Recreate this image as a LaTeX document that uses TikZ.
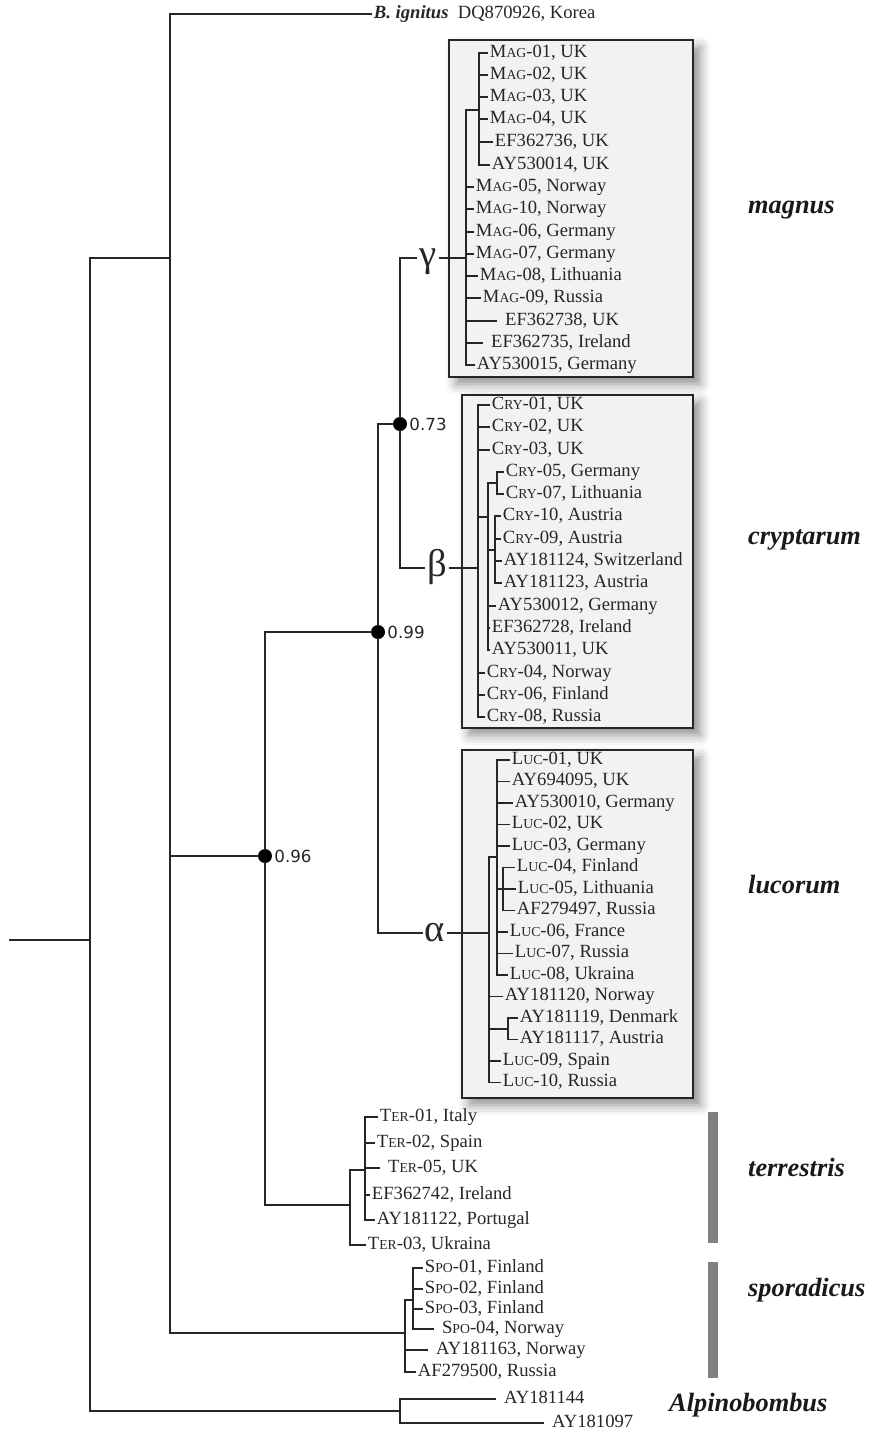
\documentclass[tikz,border=0pt]{standalone}
\usepackage{fontspec}
\setmainfont{Liberation Serif}
\newfontfamily\valfont{DejaVu Sans}
\usetikzlibrary{shadows.blur}
% small caps for the sample codes
\newcommand{\sck}[2]{#1{\fontsize{7.8pt}{8pt}\selectfont #2}}

\begin{document}
\begin{tikzpicture}[x=0.02cm,y=-0.02cm,
    branch/.style={line width=1.1pt,draw=black!85,line cap=rect},
    leaf/.style={anchor=west,inner xsep=1.5pt,inner ysep=0pt,text height=7.2pt,text depth=2.4pt,font=\fontsize{10.6pt}{12pt}\selectfont,text=black!85},
    wideleaf/.style={leaf,inner xsep=5pt},
    support/.style={circle,fill=black,inner sep=0pt,minimum size=0.28cm,label distance=0.15cm},
    val/.style={inner sep=1pt,font=\valfont\fontsize{9.5pt}{11pt}\selectfont,text=black!85},
    greek/.style={inner sep=1.5pt,text height=10pt,text depth=0pt,font=\fontsize{22pt}{24pt}\selectfont,text=black!85},
    clade/.style={anchor=west,font=\fontsize{15pt}{18pt}\selectfont\bfseries\itshape,text=black!90},
    cladebox/.style={draw=black!85,line width=1.1pt,fill=black!5,blur shadow={shadow xshift=4pt,shadow yshift=-4pt,shadow blur radius=6pt,shadow opacity=45}},
    bar/.style={fill=black!50,draw=none}]

    \useasboundingbox (0,0) rectangle (870,1430);

    % boxes round the three clades
    \filldraw[cladebox] (449,40) rectangle (693,377);
    \filldraw[cladebox] (462,395) rectangle (693,728);
    \filldraw[cladebox] (462,750) rectangle (693,1098);
    \fill[bar] (708,1112) rectangle (718,1243);
    \fill[bar] (708,1262) rectangle (718,1378);

    % backbone
    \coordinate (root) at (10,940);
    \coordinate (n1) at (90,940);
    \coordinate (n2) at (170,258);
    \node[support,label={[val]right:0.96}] (n3) at (265,856) {};
    \node[support,label={[val]right:0.99}] (n4) at (378,632) {};
    \node[support,label={[val]right:0.73}] (n5) at (400,424) {};
    \node[greek] (gam) at (428,258) {γ};
    \node[greek] (bet) at (437,568) {β};
    \node[greek] (alp) at (435,933) {α};

    % magnus
    \coordinate (mag0) at (466,258);
    \coordinate (magA) at (479,110);
    \node[leaf] (mag01) at (487,53) {\sck{M}{AG}-01, UK};
    \node[leaf] (mag02) at (487,75) {\sck{M}{AG}-02, UK};
    \node[leaf] (mag03) at (487,97) {\sck{M}{AG}-03, UK};
    \node[leaf] (mag04) at (487,119) {\sck{M}{AG}-04, UK};
    \node[leaf] (ef36) at (492,142) {EF362736, UK};
    \node[leaf] (ay14) at (489,165) {AY530014, UK};
    \node[leaf] (mag05) at (473,187) {\sck{M}{AG}-05, Norway};
    \node[leaf] (mag10) at (473,209) {\sck{M}{AG}-10, Norway};
    \node[leaf] (mag06) at (473,232) {\sck{M}{AG}-06, Germany};
    \node[leaf] (mag07) at (473,254) {\sck{M}{AG}-07, Germany};
    \node[leaf] (mag08) at (477,276) {\sck{M}{AG}-08, Lithuania};
    \node[leaf] (mag09) at (480,298) {\sck{M}{AG}-09, Russia};
    \node[wideleaf] (ef38) at (496,321) {EF362738, UK};
    \node[wideleaf] (ef35) at (482,343) {EF362735, Ireland};
    \node[leaf] (ay15) at (474,365) {AY530015, Germany};

    % cryptarum
    \coordinate (cry0) at (478,568);
    \coordinate (cryA) at (488,517);
    \coordinate (cryB) at (497,483);
    \coordinate (cryC) at (495,550);
    \node[leaf] (cry01) at (489,405) {\sck{C}{RY}-01, UK};
    \node[leaf] (cry02) at (489,427) {\sck{C}{RY}-02, UK};
    \node[leaf] (cry03) at (489,450) {\sck{C}{RY}-03, UK};
    \node[leaf] (cry05) at (503,472) {\sck{C}{RY}-05, Germany};
    \node[leaf] (cry07) at (503,494) {\sck{C}{RY}-07, Lithuania};
    \node[leaf] (cry10) at (500,516) {\sck{C}{RY}-10, Austria};
    \node[leaf] (cry09) at (500,539) {\sck{C}{RY}-09, Austria};
    \node[leaf] (ay24) at (501,561) {AY181124, Switzerland};
    \node[leaf] (ay23) at (501,583) {AY181123, Austria};
    \node[leaf] (ay12) at (495,606) {AY530012, Germany};
    \node[leaf] (ef28) at (489,628) {EF362728, Ireland};
    \node[leaf] (ay11) at (489,650) {AY530011, UK};
    \node[leaf] (cry04) at (484,673) {\sck{C}{RY}-04, Norway};
    \node[leaf] (cry06) at (484,695) {\sck{C}{RY}-06, Finland};
    \node[leaf] (cry08) at (484,717) {\sck{C}{RY}-08, Russia};

    % lucorum
    \coordinate (luc0) at (489,933);
    \coordinate (lucA) at (497,857);
    \coordinate (lucB) at (503,889);
    \coordinate (lucC) at (508,1029);
    \node[leaf] (luc01) at (509,760) {\sck{L}{UC}-01, UK};
    \node[leaf] (ay95) at (509,781.5) {AY694095, UK};
    \node[leaf] (ay10) at (512,803) {AY530010, Germany};
    \node[leaf] (luc02) at (509,824.5) {\sck{L}{UC}-02, UK};
    \node[leaf] (luc03) at (509,846) {\sck{L}{UC}-03, Germany};
    \node[leaf] (luc04) at (514,867.5) {\sck{L}{UC}-04, Finland};
    \node[leaf] (luc05) at (515,889) {\sck{L}{UC}-05, Lithuania};
    \node[leaf] (af97) at (514,910.5) {AF279497, Russia};
    \node[leaf] (luc06) at (507,932) {\sck{L}{UC}-06, France};
    \node[leaf] (luc07) at (512,953.5) {\sck{L}{UC}-07, Russia};
    \node[leaf] (luc08) at (507,975) {\sck{L}{UC}-08, Ukraina};
    \node[leaf] (ay20) at (502,996.5) {AY181120, Norway};
    \node[leaf] (ay19) at (517,1018) {AY181119, Denmark};
    \node[leaf] (ay17) at (517,1039.5) {AY181117, Austria};
    \node[leaf] (luc09) at (500,1061) {\sck{L}{UC}-09, Spain};
    \node[leaf] (luc10) at (500,1082.5) {\sck{L}{UC}-10, Russia};

    % terrestris
    \coordinate (ter0) at (350,1205);
    \coordinate (terA) at (365,1170);
    \node[leaf] (ter01) at (377,1117) {\sck{T}{ER}-01, Italy};
    \node[leaf] (ter02) at (374,1143) {\sck{T}{ER}-02, Spain};
    \node[wideleaf] (ter05) at (379,1168) {\sck{T}{ER}-05, UK};
    \node[leaf] (ef42) at (369,1195) {EF362742, Ireland};
    \node[leaf] (ay22) at (374,1220) {AY181122, Portugal};
    \node[leaf] (ter03) at (365,1245) {\sck{T}{ER}-03, Ukraina};

    % sporadicus
    \coordinate (spo0) at (405,1333);
    \coordinate (spoA) at (413,1300);
    \node[leaf] (spo01) at (422,1268) {\sck{S}{PO}-01, Finland};
    \node[leaf] (spo02) at (422,1289) {\sck{S}{PO}-02, Finland};
    \node[leaf] (spo03) at (422,1309) {\sck{S}{PO}-03, Finland};
    \node[wideleaf] (spo04) at (433,1329) {\sck{S}{PO}-04, Norway};
    \node[wideleaf] (ay63) at (427,1350) {AY181163, Norway};
    \node[leaf] (af00) at (415,1372) {AF279500, Russia};

    % outgroups
    \coordinate (alp0) at (400,1411);
    \node[wideleaf] (ay44) at (495,1399) {AY181144};
    \node[wideleaf] (ay97) at (543,1423) {AY181097};
    \node[leaf] (ign) at (371,14) {\textbf{\textit{B. ignitus}}\ \ DQ870926, Korea};

    % clade names
    \node[clade] (lmag) at (742,210) {magnus};
    \node[clade] (lcry) at (742,540) {cryptarum};
    \node[clade] (lluc) at (742,885) {lucorum};
    \node[clade] (lter) at (742,1167) {terrestris};
    \node[clade] (lspo) at (742,1290) {sporadicus};
    \node[clade] (lalp) at (663,1405) {Alpinobombus};

    % branches
    \draw[branch] (root) -- (n1);
    \draw[branch] (n1) |- (n2);
    \draw[branch] (n1) |- (alp0);
    \draw[branch] (n2) |- (ign.west);
    \draw[branch] (n2) |- (n3);
    \draw[branch] (n2) |- (spo0);
    \draw[branch] (n3) |- (n4);
    \draw[branch] (n3) |- (ter0);
    \draw[branch] (n4) |- (n5);
    \draw[branch] (n4) |- (alp.west);
    \draw[branch] (n5) |- (gam.west);
    \draw[branch] (n5) |- (bet.west);
    \draw[branch] (gam) -- (mag0);
    \draw[branch] (bet) -- (cry0);
    \draw[branch] (alp) -- (luc0);

    \draw[branch] (mag0) |- (magA);
    \foreach \l in {mag01,mag02,mag03,mag04,ef36,ay14}
        \draw[branch] (magA) |- (\l.west);
    \foreach \l in {mag05,mag10,mag06,mag07,mag08,mag09,ef38,ef35,ay15}
        \draw[branch] (mag0) |- (\l.west);

    \draw[branch] (cry0) |- (cryA);
    \draw[branch] (cryA) |- (cryB);
    \draw[branch] (cryA) |- (cryC);
    \foreach \l in {cry01,cry02,cry03,cry04,cry06,cry08}
        \draw[branch] (cry0) |- (\l.west);
    \foreach \l in {ay12,ef28,ay11}
        \draw[branch] (cryA) |- (\l.west);
    \foreach \l in {cry05,cry07}
        \draw[branch] (cryB) |- (\l.west);
    \foreach \l in {cry10,cry09,ay24,ay23}
        \draw[branch] (cryC) |- (\l.west);

    \draw[branch] (luc0) |- (lucA);
    \draw[branch] (luc0) |- (lucC);
    \draw[branch] (lucA) |- (lucB);
    \foreach \l in {ay20,luc09,luc10}
        \draw[branch] (luc0) |- (\l.west);
    \foreach \l in {luc01,ay95,ay10,luc02,luc03,luc06,luc07,luc08}
        \draw[branch] (lucA) |- (\l.west);
    \foreach \l in {luc04,luc05,af97}
        \draw[branch] (lucB) |- (\l.west);
    \foreach \l in {ay19,ay17}
        \draw[branch] (lucC) |- (\l.west);

    \draw[branch] (ter0) |- (terA);
    \draw[branch] (ter0) |- (ter03.west);
    \foreach \l in {ter01,ter02,ter05,ef42,ay22}
        \draw[branch] (terA) |- (\l.west);

    \draw[branch] (spo0) |- (spoA);
    \foreach \l in {ay63,af00}
        \draw[branch] (spo0) |- (\l.west);
    \foreach \l in {spo01,spo02,spo03,spo04}
        \draw[branch] (spoA) |- (\l.west);

    \draw[branch] (alp0) |- (ay44.west);
    \draw[branch] (alp0) |- (ay97.west);
\end{tikzpicture}
\end{document}
